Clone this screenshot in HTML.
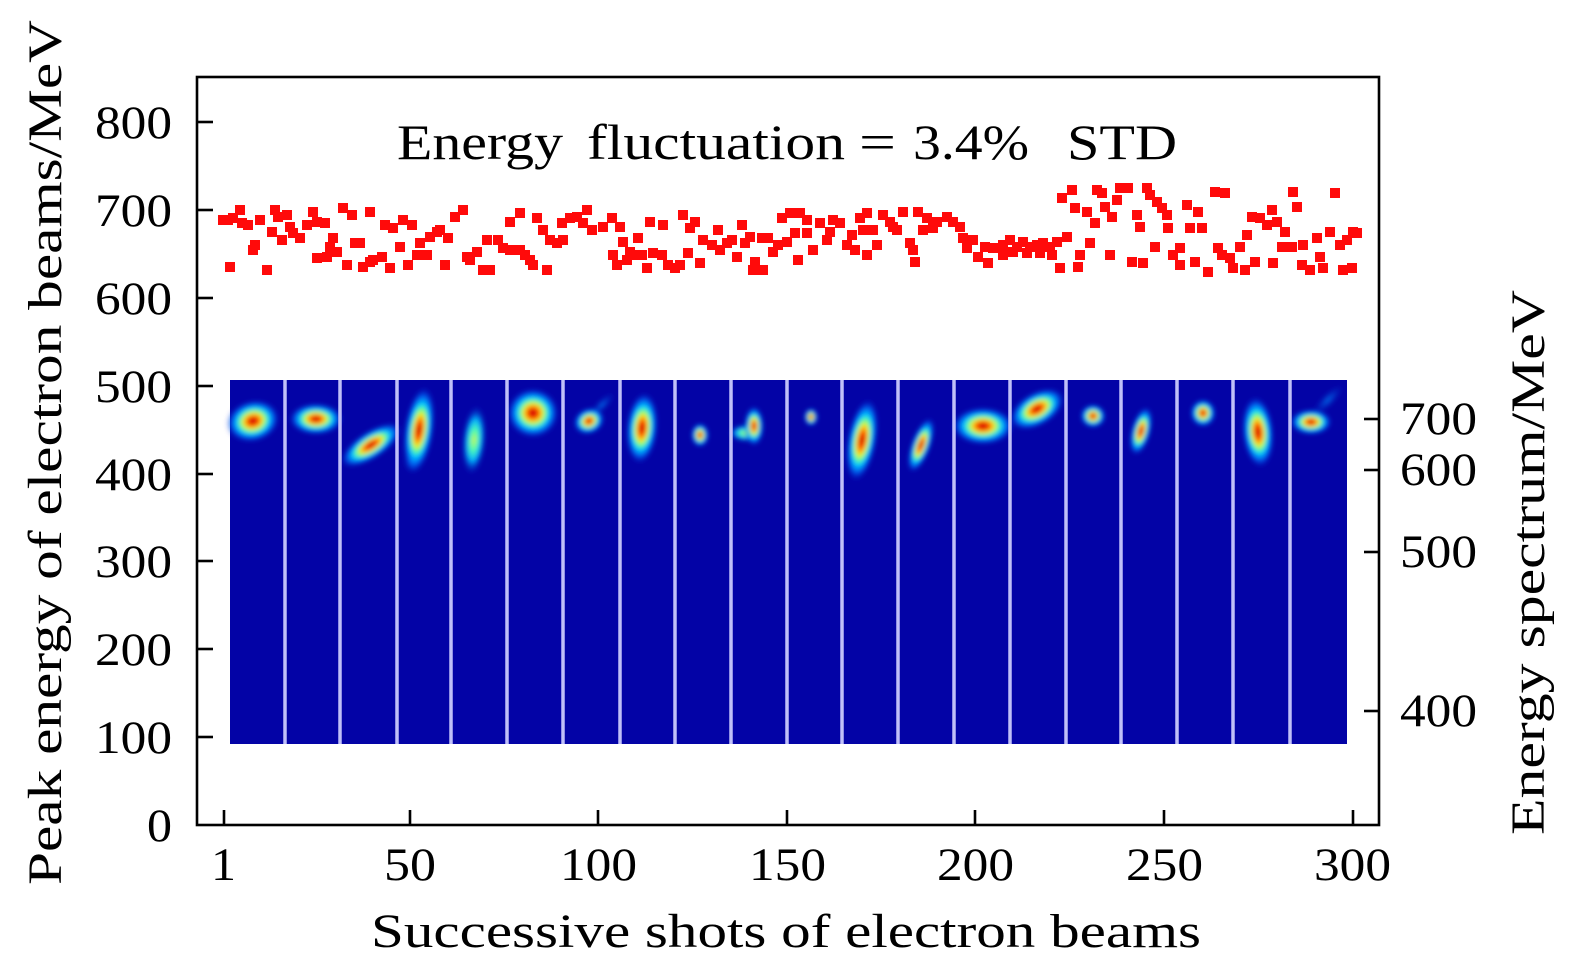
<!DOCTYPE html>
<html>
<head>
<meta charset="utf-8">
<style>
html,body{margin:0;padding:0;background:#fff;}
svg{display:block;}
text{font-family:"Liberation Serif",serif;fill:#000;}
</style>
</head>
<body>
<svg width="1575" height="974" viewBox="0 0 1575 974" xmlns="http://www.w3.org/2000/svg">
<defs>
<radialGradient id="j">
<stop offset="0" stop-color="#a00000"/>
<stop offset=".13" stop-color="#f00000"/>
<stop offset=".26" stop-color="#ff9000"/>
<stop offset=".37" stop-color="#f0f020"/>
<stop offset=".48" stop-color="#60ff90"/>
<stop offset=".6" stop-color="#00d0ff"/>
<stop offset=".78" stop-color="#0070ff" stop-opacity=".8"/>
<stop offset="1" stop-color="#0010c0" stop-opacity="0"/>
</radialGradient>
<radialGradient id="c">
<stop offset="0" stop-color="#e0f040"/>
<stop offset=".3" stop-color="#50ffb0"/>
<stop offset=".6" stop-color="#00b0ff"/>
<stop offset="1" stop-color="#0010c0" stop-opacity="0"/>
</radialGradient>
<radialGradient id="f">
<stop offset="0" stop-color="#0090ff" stop-opacity=".8"/>
<stop offset="1" stop-color="#0010c0" stop-opacity="0"/>
</radialGradient>
<filter id="b" x="-50%" y="-50%" width="200%" height="200%"><feGaussianBlur stdDeviation="2.4"/></filter>
</defs>

<!-- spectrometer strips -->
<rect x="230" y="380" width="1117" height="364" fill="#0303a6"/>
<g filter="url(#b)">
<ellipse cx="253" cy="421" rx="27" ry="21" fill="url(#j)" transform="rotate(-15 253 421)"/>
<ellipse cx="316" cy="419" rx="27" ry="16" fill="url(#j)"/>
<ellipse cx="371" cy="445" rx="35" ry="14" fill="url(#j)" transform="rotate(-33 371 445)"/>
<ellipse cx="412" cy="462" rx="9" ry="12" fill="url(#f)"/>
<ellipse cx="419" cy="430" rx="15" ry="44" fill="url(#j)" transform="rotate(8 419 430)"/>
<ellipse cx="474" cy="440" rx="12" ry="35" fill="url(#c)" transform="rotate(5 474 440)"/>
<ellipse cx="533" cy="413" rx="26" ry="25" fill="url(#j)"/>
<ellipse cx="602" cy="405" rx="18" ry="6" fill="url(#f)" transform="rotate(-45 602 405)"/>
<ellipse cx="589" cy="421" rx="16" ry="13" fill="url(#j)" transform="rotate(-25 589 421)"/>
<ellipse cx="642" cy="428" rx="16" ry="36" fill="url(#j)" transform="rotate(5 642 428)"/>
<ellipse cx="700" cy="435" rx="9" ry="12" fill="url(#j)"/>
<ellipse cx="746" cy="433" rx="17" ry="9" fill="url(#c)"/>
<ellipse cx="754" cy="426" rx="10" ry="20" fill="url(#j)"/>
<ellipse cx="811" cy="417" rx="7" ry="9" fill="url(#j)"/>
<ellipse cx="862" cy="440" rx="15" ry="42" fill="url(#j)" transform="rotate(10 862 440)"/>
<ellipse cx="921" cy="445" rx="10" ry="29" fill="url(#j)" transform="rotate(20 921 445)"/>
<ellipse cx="983" cy="426" rx="31" ry="19" fill="url(#j)"/>
<ellipse cx="1037" cy="409" rx="30" ry="17" fill="url(#j)" transform="rotate(-30 1037 409)"/>
<ellipse cx="1093" cy="416" rx="13" ry="12" fill="url(#j)"/>
<ellipse cx="1141" cy="431" rx="10" ry="25" fill="url(#j)" transform="rotate(15 1141 431)"/>
<ellipse cx="1203" cy="413" rx="13" ry="14" fill="url(#j)"/>
<ellipse cx="1258" cy="432" rx="16" ry="36" fill="url(#j)" transform="rotate(-5 1258 432)"/>
<ellipse cx="1328" cy="400" rx="22" ry="7" fill="url(#f)" transform="rotate(-45 1328 400)"/>
<ellipse cx="1311" cy="422" rx="21" ry="13" fill="url(#j)"/>
</g>
<g stroke="#c0c0f8" stroke-width="3.5">
<line x1="285" y1="380" x2="285" y2="744"/>
<line x1="340" y1="380" x2="340" y2="744"/>
<line x1="397" y1="380" x2="397" y2="744"/>
<line x1="451" y1="380" x2="451" y2="744"/>
<line x1="507" y1="380" x2="507" y2="744"/>
<line x1="563" y1="380" x2="563" y2="744"/>
<line x1="620" y1="380" x2="620" y2="744"/>
<line x1="675" y1="380" x2="675" y2="744"/>
<line x1="731" y1="380" x2="731" y2="744"/>
<line x1="787" y1="380" x2="787" y2="744"/>
<line x1="842" y1="380" x2="842" y2="744"/>
<line x1="898" y1="380" x2="898" y2="744"/>
<line x1="954" y1="380" x2="954" y2="744"/>
<line x1="1010" y1="380" x2="1010" y2="744"/>
<line x1="1066" y1="380" x2="1066" y2="744"/>
<line x1="1121" y1="380" x2="1121" y2="744"/>
<line x1="1177" y1="380" x2="1177" y2="744"/>
<line x1="1233" y1="380" x2="1233" y2="744"/>
<line x1="1290" y1="380" x2="1290" y2="744"/>
</g>

<!-- scatter -->
<path fill="none" stroke="#ff0a0a" stroke-width="10" stroke-linecap="square" d="
M223 220h0M228 220h0M233 218h0M240 210h0M242 223h0M248 225h0M260 220h0M253 250h0M255 245h0M230 267h0M267 270h0M275 210h0M278 217h0M287 215h0M272 232h0M282 240h0M290 227h0M293 233h0M300 238h0M307 225h0M313 212h0M317 222h0M325 223h0M333 238h0M330 247h0M317 258h0M327 257h0M337 252h0M343 208h0M352 215h0M355 243h0M360 243h0M370 212h0M347 265h0M363 267h0M370 262h0M382 257h0M373 260h0M390 268h0M385 225h0M393 228h0M403 220h0M412 225h0M400 247h0M420 243h0M417 255h0M427 255h0M408 265h0M430 237h0M437 232h0M440 230h0M448 238h0M445 265h0M455 217h0M463 210h0M467 257h0M477 252h0M470 260h0M483 270h0M490 270h0M487 240h0M498 240h0M503 248h0M510 250h0M520 250h0M525 255h0M530 260h0M533 265h0M547 270h0M510 222h0M520 213h0M537 218h0M543 230h0M550 240h0M557 243h0M563 240h0M562 223h0M570 218h0M577 217h0M583 223h0M587 210h0M592 230h0
M603 227h0M612 218h0M620 227h0M623 242h0M630 252h0M638 238h0M650 222h0M663 225h0M683 215h0M695 222h0M690 228h0M613 255h0M617 265h0M627 260h0M633 255h0M642 255h0M647 268h0M653 253h0M662 255h0M668 265h0M675 268h0M680 265h0M688 253h0M700 263h0M703 240h0M712 245h0M718 230h0M720 250h0M727 243h0M732 240h0M737 257h0M742 225h0M745 243h0M750 237h0M755 262h0M753 270h0M763 270h0M762 238h0M768 238h0M773 252h0M778 245h0M787 242h0M782 218h0M790 213h0M800 213h0M807 220h0M795 233h0M807 233h0M798 260h0M813 250h0M820 223h0M827 240h0M833 220h0M840 223h0M830 232h0M847 245h0M852 235h0M860 218h0M867 213h0M863 230h0M855 250h0M867 255h0M873 230h0M877 245h0M883 215h0M890 222h0M893 227h0M897 230h0M903 212h0M910 243h0M915 262h0M913 250h0M918 212h0M923 230h0M927 218h0M933 228h0M937 222h0M947 217h0M953 222h0M960 227h0M963 238h0M973 240h0M967 248h0M978 257h0M985 247h0M993 248h0M988 263h0
M1003 245h0M1010 240h0M1017 247h0M1023 242h0M1030 247h0M1037 245h0M1043 243h0M1050 247h0M1057 242h0M1003 255h0M1013 252h0M1027 253h0M1040 253h0M1052 255h0M1067 237h0M1060 268h0M1078 267h0M1080 255h0M1090 243h0M1062 198h0M1072 190h0M1075 208h0M1087 212h0M1095 223h0M1097 190h0M1102 193h0M1105 207h0M1112 217h0M1117 200h0M1120 188h0M1128 188h0M1147 188h0M1150 195h0M1157 202h0M1162 208h0M1167 215h0M1137 215h0M1140 227h0M1168 228h0M1155 247h0M1132 262h0M1143 263h0M1110 255h0M1180 248h0M1173 255h0M1187 205h0M1198 212h0M1190 228h0M1202 228h0M1180 265h0M1195 262h0M1208 272h0M1215 192h0M1225 193h0M1218 248h0M1222 255h0M1230 258h0M1233 268h0M1240 247h0M1245 270h0M1247 235h0M1255 262h0M1252 217h0M1260 218h0M1267 225h0M1272 210h0M1277 222h0M1285 232h0M1282 247h0M1292 247h0M1293 192h0M1297 207h0M1273 263h0M1302 265h0M1310 270h0M1323 268h0M1320 257h0M1303 245h0M1317 238h0M1330 232h0M1335 193h0M1340 245h0M1347 240h0M1353 232h0M1343 270h0M1352 268h0M1357 233h0"/>

<!-- frame -->
<rect x="197" y="77" width="1182" height="748" fill="none" stroke="#000" stroke-width="2.6"/>
<g stroke="#000" stroke-width="2.6">
<line x1="197" y1="122" x2="213" y2="122"/>
<line x1="197" y1="210" x2="213" y2="210"/>
<line x1="197" y1="298" x2="213" y2="298"/>
<line x1="197" y1="386" x2="213" y2="386"/>
<line x1="197" y1="474" x2="213" y2="474"/>
<line x1="197" y1="561" x2="213" y2="561"/>
<line x1="197" y1="649" x2="213" y2="649"/>
<line x1="197" y1="737" x2="213" y2="737"/>
<line x1="224" y1="825" x2="224" y2="810"/>
<line x1="410" y1="825" x2="410" y2="810"/>
<line x1="598" y1="825" x2="598" y2="810"/>
<line x1="787" y1="825" x2="787" y2="810"/>
<line x1="975" y1="825" x2="975" y2="810"/>
<line x1="1164" y1="825" x2="1164" y2="810"/>
<line x1="1353" y1="825" x2="1353" y2="810"/>
<line x1="1364" y1="419" x2="1379" y2="419"/>
<line x1="1364" y1="470" x2="1379" y2="470"/>
<line x1="1364" y1="552" x2="1379" y2="552"/>
<line x1="1364" y1="711" x2="1379" y2="711"/>
</g>

<!-- left tick labels -->
<g font-size="47">
<text x="95" y="138" textLength="77" lengthAdjust="spacingAndGlyphs">800</text>
<text x="95" y="226" textLength="77" lengthAdjust="spacingAndGlyphs">700</text>
<text x="95" y="314" textLength="77" lengthAdjust="spacingAndGlyphs">600</text>
<text x="95" y="402" textLength="77" lengthAdjust="spacingAndGlyphs">500</text>
<text x="95" y="490" textLength="77" lengthAdjust="spacingAndGlyphs">400</text>
<text x="95" y="577" textLength="77" lengthAdjust="spacingAndGlyphs">300</text>
<text x="95" y="665" textLength="77" lengthAdjust="spacingAndGlyphs">200</text>
<text x="95" y="753" textLength="77" lengthAdjust="spacingAndGlyphs">100</text>
<text x="147" y="841" textLength="25" lengthAdjust="spacingAndGlyphs">0</text>
</g>

<!-- bottom tick labels -->
<g font-size="47">
<text x="211" y="880" textLength="25" lengthAdjust="spacingAndGlyphs">1</text>
<text x="384" y="880" textLength="52" lengthAdjust="spacingAndGlyphs">50</text>
<text x="560" y="880" textLength="77" lengthAdjust="spacingAndGlyphs">100</text>
<text x="749" y="880" textLength="77" lengthAdjust="spacingAndGlyphs">150</text>
<text x="937" y="880" textLength="77" lengthAdjust="spacingAndGlyphs">200</text>
<text x="1126" y="880" textLength="77" lengthAdjust="spacingAndGlyphs">250</text>
<text x="1314" y="880" textLength="77" lengthAdjust="spacingAndGlyphs">300</text>
</g>

<!-- right tick labels -->
<g font-size="47">
<text x="1400" y="434" textLength="77" lengthAdjust="spacingAndGlyphs">700</text>
<text x="1400" y="485" textLength="77" lengthAdjust="spacingAndGlyphs">600</text>
<text x="1400" y="567" textLength="77" lengthAdjust="spacingAndGlyphs">500</text>
<text x="1400" y="726" textLength="77" lengthAdjust="spacingAndGlyphs">400</text>
</g>

<!-- title -->
<g font-size="50">
<text x="397" y="159" textLength="166" lengthAdjust="spacingAndGlyphs">Energy</text>
<text x="587" y="159" textLength="258" lengthAdjust="spacingAndGlyphs">fluctuation</text>
<text x="859" y="159" textLength="37" lengthAdjust="spacingAndGlyphs">=</text>
<text x="913" y="159" textLength="116" lengthAdjust="spacingAndGlyphs">3.4%</text>
<text x="1067" y="159" textLength="110" lengthAdjust="spacingAndGlyphs">STD</text>
</g>

<!-- axis titles -->
<text x="371" y="947" font-size="48" textLength="830" lengthAdjust="spacingAndGlyphs">Successive shots of electron beams</text>
<text font-size="48" transform="translate(61 885) rotate(-90)" textLength="865" lengthAdjust="spacingAndGlyphs">Peak energy of electron beams/MeV</text>
<text font-size="48" transform="translate(1544 835) rotate(-90)" textLength="545" lengthAdjust="spacingAndGlyphs">Energy spectrum/MeV</text>
</svg>
</body>
</html>
